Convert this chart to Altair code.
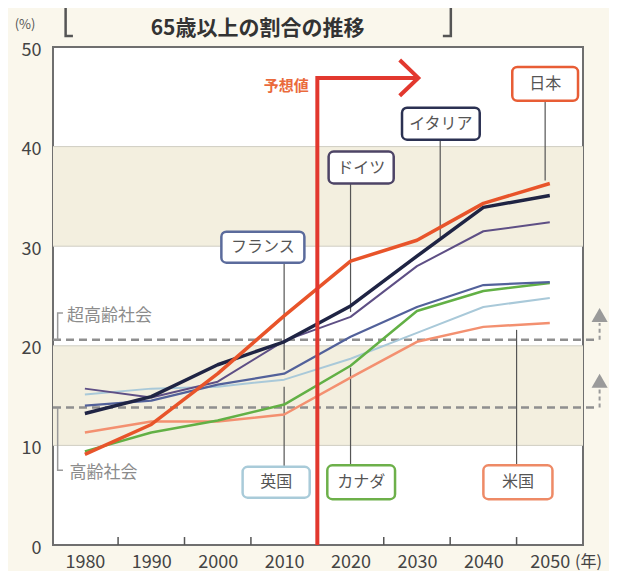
import altair as alt
import pandas as pd

# ---------------- data ----------------
years = [1980, 1990, 2000, 2010, 2020, 2030, 2040, 2050]
japan = [9.1, 12.1, 17.2, 23.0, 28.5, 30.6, 34.3, 36.3]
italy = [13.2, 14.9, 18.1, 20.4, 24.0, 29.0, 33.9, 35.1]
germany = [15.7, 14.8, 16.4, 20.5, 22.9, 28.0, 31.5, 32.4]
france = [14.0, 14.5, 16.1, 17.2, 20.9, 23.9, 26.1, 26.4]
uk = [15.1, 15.7, 15.9, 16.6, 18.7, 21.3, 23.9, 24.8]
canada = [9.4, 11.3, 12.5, 14.1, 18.0, 23.5, 25.5, 26.3]
usa = [11.3, 12.4, 12.4, 13.1, 16.8, 20.4, 21.9, 22.3]

series_names = ["英国", "米国", "カナダ", "フランス", "ドイツ", "イタリア", "日本"]
series_values = [uk, usa, canada, france, germany, italy, japan]
series_colors = ["#a9c9d9", "#f39070", "#62b045", "#52619a", "#5e4f85", "#1f2444", "#e8542a"]
series_widths = [2.0, 2.5, 2.5, 2.2, 2.0, 3.5, 3.5]

x_tick_labels = [1980, 1990, 2000, 2010, 2020, 2030, 2040, 2050]
x_minor_ticks = [1985, 1995, 2005, 2015, 2025, 2035, 2045]
y_tick_labels = [0, 10, 20, 30, 40, 50]
grid_values = [10, 20, 30, 40]
band_lo = [10, 30]
band_hi = [20, 40]

# label boxes
box_names = ["フランス", "英国", "カナダ", "米国", "ドイツ", "イタリア", "日本"]
box_cx = [2006.8, 2008.8, 2021.6, 2045.2, 2021.6, 2033.6, 2049.3]
box_cy = [29.9, 6.3, 6.3, 6.3, 37.9, 42.3, 46.3]
box_w = [12.5, 10.1, 10.2, 10.4, 9.8, 11.7, 9.9]
box_h = [3.1, 3.1, 3.4, 3.4, 3.2, 3.2, 3.4]
box_border = ["#5b6b9c", "#a9cbd9", "#6db04a", "#ee8a66", "#4d4466", "#2b3152", "#e85d35"]
leader_x = [2010, 2010, 2020, 2045, 2020, 2033.5, 2049.3]
leader_end = [17.6, 15.9, 17.8, 21.6, 23.4, 30.9, 36.6]

# thresholds
thr_names = ["超高齢社会", "高齢社会"]
thr_values = [20.6, 13.8]
thr_x_start = 1975.2
thr_x_end = 2057.1

# forecast
forecast_year = 2015
forecast_top = 46.9
forecast_arrow_end = 2030.2

x_domain = [1975.2, 2055]
y_domain = [0, 50]

W, H = 530, 498

# ---------------- helpers ----------------
xs = alt.Scale(domain=x_domain, nice=False, zero=False)
ys = alt.Scale(domain=y_domain, nice=False, zero=True)
x_axis = alt.Axis(values=x_tick_labels, format="d", ticks=False, domain=False, grid=False,
                  labelFontSize=18, labelColor="#444", labelPadding=8, title=None,
                  labelFlush=False)
y_axis = alt.Axis(values=y_tick_labels, ticks=False, domain=False, grid=False,
                  labelFontSize=18, labelColor="#444", labelPadding=12, title=None,
                  labelOffset=3)


def X(f="x"):
    return alt.X(f"{f}:Q", scale=xs, axis=x_axis)


def Y(f="y"):
    return alt.Y(f"{f}:Q", scale=ys, axis=y_axis)


layers = []

# bands
bands = pd.DataFrame({"y": band_lo, "y2": band_hi})
layers.append(alt.Chart(bands).mark_rect(color="#f3efdf").encode(y=Y(), y2="y2:Q"))

# grid
grid = pd.DataFrame({"y": grid_values})
layers.append(alt.Chart(grid).mark_rule(color="#cfcdc2", strokeWidth=1).encode(y=Y()))

# threshold dashed lines
thr = pd.DataFrame({"y": thr_values, "x": [thr_x_start] * 2, "x2": [thr_x_end] * 2})
layers.append(alt.Chart(thr).mark_rule(color="#8f8f8f", strokeWidth=2.5, strokeDash=[8, 5]).encode(
    x=X(), x2="x2:Q", y=Y()))

# threshold brackets
br = pd.DataFrame({
    "x": [1976.7, 1975.9, 1975.9, 1976.7, 1975.9, 1975.9],
    "y": [23.3, 23.3, 20.6, 7.5, 7.5, 13.8],
    "g": ["a", "a", "a", "b", "b", "b"],
    "o": [0, 1, 2, 0, 1, 2],
})
layers.append(alt.Chart(br).mark_line(color="#9a9a9a", strokeWidth=1.5).encode(
    x=X(), y=Y(), detail="g:N", order="o:Q"))

thr_txt = pd.DataFrame({"x": [1977.3, 1977.7], "y": [23.0, 7.2], "t": thr_names})
layers.append(alt.Chart(thr_txt).mark_text(align="left", baseline="middle", fontSize=17,
                                           color="#8c8c8c").encode(x=X(), y=Y(), text="t:N"))

# right-side arrows
arr_stem = pd.DataFrame({"x": [2057.5, 2057.5], "y": [20.6, 13.8], "y2": [22.3, 15.6]})
layers.append(alt.Chart(arr_stem).mark_rule(color="#9a9a9a", strokeWidth=2, strokeDash=[4, 3]).encode(
    x=X(), y=Y(), y2="y2:Q"))
arr_head = pd.DataFrame({"x": [2057.5, 2057.5], "y": [23.1, 16.5]})
layers.append(alt.Chart(arr_head).mark_point(shape="triangle-up", size=260, filled=True,
                                             color="#9a9a9a", opacity=1).encode(x=X(), y=Y()))

# leaders
box_df = pd.DataFrame({"name": box_names, "cx": box_cx, "cy": box_cy, "w": box_w, "h": box_h,
                       "border": box_border, "lx": leader_x, "le": leader_end})
box_df["x"] = box_df["cx"] - box_df["w"] / 2
box_df["x2"] = box_df["cx"] + box_df["w"] / 2
box_df["y"] = box_df["cy"] - box_df["h"] / 2
box_df["y2"] = box_df["cy"] + box_df["h"] / 2
box_df["ls"] = [r.y if r.cy > r.le else r.y2 for r in box_df.itertuples()]
layers.append(alt.Chart(box_df).mark_rule(color="#555", strokeWidth=1.2).encode(
    x=X("lx"), y=Y("ls"), y2="le:Q"))

# data lines
for name, vals, col, sw in zip(series_names, series_values, series_colors, series_widths):
    df = pd.DataFrame({"x": years, "y": vals})
    layers.append(alt.Chart(df).mark_line(color=col, strokeWidth=sw, strokeJoin="round").encode(
        x=X(), y=Y()))

# bottom ticks
ticks = pd.DataFrame({"x": x_minor_ticks, "y": [0] * len(x_minor_ticks), "y2": [0.8] * len(x_minor_ticks)})
layers.append(alt.Chart(ticks).mark_rule(color="#555", strokeWidth=1.5).encode(x=X(), y=Y(), y2="y2:Q"))

# forecast arrow
fc = pd.DataFrame({"x": [forecast_year, forecast_year, forecast_arrow_end],
                   "y": [0, forecast_top, forecast_top], "o": [0, 1, 2]})
layers.append(alt.Chart(fc).mark_line(color="#e2382e", strokeWidth=4, strokeJoin="miter").encode(
    x=X(), y=Y(), order="o:Q"))
chev = pd.DataFrame({"x": [2027.4, forecast_arrow_end, 2027.4], "y": [48.7, forecast_top, 45.1], "o": [0, 1, 2]})
layers.append(alt.Chart(chev).mark_line(color="#e2382e", strokeWidth=4, strokeJoin="miter").encode(
    x=X(), y=Y(), order="o:Q"))
fc_txt = pd.DataFrame({"x": [2013.7], "y": [46.1], "t": ["予想値"]})
layers.append(alt.Chart(fc_txt).mark_text(align="right", baseline="middle", fontSize=15, fontWeight="bold",
                                          color="#ea6a3c").encode(x=X(), y=Y(), text="t:N"))

# label boxes
layers.append(alt.Chart(box_df).mark_rect(fill="white", strokeWidth=2.5, cornerRadius=5).encode(
    x=X(), x2="x2:Q", y=Y(), y2="y2:Q",
    stroke=alt.Stroke("border:N", scale=None)))
layers.append(alt.Chart(box_df).mark_text(fontSize=16, color="#555", baseline="middle").encode(
    x=X("cx"), y=Y("cy"), text="name:N"))

# title & outer texts
title_df = pd.DataFrame({"x": [2006.0], "y": [52.9], "t": ["65歳以上の割合の推移"]})
layers.append(alt.Chart(title_df).mark_text(fontSize=21, fontWeight="bold", color="#333",
                                            baseline="top").encode(x=X(), y=Y(), text="t:N"))
tb = pd.DataFrame({
    "x": [1978.2, 1977.1, 1977.1, 2033.9, 2035.1, 2035.1],
    "y": [51.1, 51.1, 56.0, 51.1, 51.1, 56.0],
    "g": ["l", "l", "l", "r", "r", "r"],
    "o": [0, 1, 2, 0, 1, 2],
})
layers.append(alt.Chart(tb).mark_line(color="#555", strokeWidth=2.5).encode(
    x=X(), y=Y(), detail="g:N", order="o:Q"))
pct = pd.DataFrame({"x": [1971.0], "y": [52.2], "t": ["(%)"]})
layers.append(alt.Chart(pct).mark_text(fontSize=13, color="#555", baseline="middle").encode(
    x=X(), y=Y(), text="t:N"))
nen = pd.DataFrame({"x": [2053.8], "y": [-1.71], "t": ["(年)"]})
layers.append(alt.Chart(nen).mark_text(fontSize=16, color="#444", align="left", baseline="middle").encode(
    x=X(), y=Y(), text="t:N"))

chart = alt.layer(*layers).properties(
    width=W, height=H,
    autosize=alt.AutoSizeParams(type="none"),
    padding={"left": 45, "top": 39, "right": 26, "bottom": 26},
).configure(
    background="#faf7ec",
    font="Noto Sans CJK JP",
).configure_view(
    stroke="#6f6f6f", strokeWidth=2, fill="white",
)

chart.save("out.html", embed_options={"renderer": "svg", "actions": False})
